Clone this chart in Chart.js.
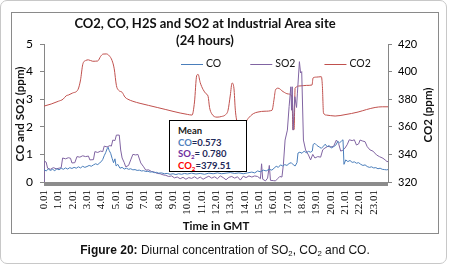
<!DOCTYPE html>
<html>
<head>
<meta charset="utf-8">
<script src="https://cdn.jsdelivr.net/npm/chart.js@4.4.1/dist/chart.umd.min.js"></script>
<style>
  html, body { margin: 0; padding: 0; background: #fff; }
  #wrap { position: relative; width: 450px; height: 266px; overflow: hidden; }
  #frame { position: absolute; left: 0; top: 0; width: 445px; height: 262px; border: 1.5px solid #c8c8c8; border-radius: 7px; pointer-events: none; }
  #meanBox { position: absolute; left: 169px; top: 120px; width: 78px; height: 52px; box-sizing: border-box;
    border: 1.5px solid #000; background: #fff; padding: 4px 0 0 8px; font: bold 9.5px Lato, sans-serif; line-height: 11.5px; color: #1f2a5a; }
  #meanBox sub, #caption sub { font-size: 65%; vertical-align: -2px; line-height: 0; }
  #caption { position: absolute; left: 0; top: 243px; width: 450px; text-align: center; font: 12px "Liberation Sans", Arial, sans-serif; color: #111; }
</style>
</head>
<body>
<div id="wrap">
  <canvas id="c" width="450" height="266"></canvas>
  <div id="meanBox"></div>
  <div id="caption"><b>Figure 20:</b> Diurnal concentration of SO<sub>2</sub>, CO<sub>2</sub> and CO.</div>
  <div id="frame"></div>
</div>
<script>
// tick labels along the time axis (hour.minute)
const hourLabels = ['0.01','1.01','2.01','3.01','4.01','5.01','6.01','7.01','8.01','9.01','10.01','11.01',
  '12.01','13.01','14.01','15.01','16.01','17.01','18.01','19.01','20.01','21.01','22.01','23.01'];

// CO (ppm), left axis
const coHours = [0,0.15,0.3,0.45,0.6,0.75,0.9,1.05,1.2,1.35,1.5,1.65,1.8,1.95,2.1,2.25,2.4,2.55,2.7,2.85,
  3,3.15,3.3,3.45,3.6,3.75,3.9,4,4.1,4.2,4.3,4.4,4.47,4.55,4.65,4.75,4.85,4.95,5.03,5.15,5.3,5.45,5.6,5.75,5.9,
  6.05,6.2,6.35,6.5,6.65,6.8,6.95,7.1,7.25,7.4,7.55,7.7,7.85,8,8.2,8.4,8.6,8.8,9,9.2,9.4,9.6,9.8,10,10.3,10.6,
  10.9,11.2,11.5,11.8,12.1,12.4,12.7,13,13.3,13.6,13.9,14.2,14.5,14.7,14.9,15.1,15.3,15.5,15.7,15.9,16.05,16.2,
  16.35,16.5,16.65,16.8,16.95,17.1,17.25,17.4,17.52,17.65,17.72,17.85,18,18.15,18.3,18.45,18.6,18.72,18.78,18.9,
  19.05,19.2,19.35,19.5,19.62,19.75,19.9,20.05,20.2,20.35,20.5,20.62,20.75,20.86,20.93,21.05,21.2,21.35,21.5,
  21.65,21.8,21.95,22.1,22.25,22.4,22.55,22.7,22.85,23,23.15,23.3,23.45,23.6,23.75,23.9,24];
const coValues = [0.45,0.40,0.47,0.42,0.46,0.41,0.48,0.44,0.50,0.46,0.51,0.47,0.52,0.49,0.53,0.50,0.55,0.51,0.57,0.53,
  0.56,0.60,0.57,0.62,0.66,0.63,0.70,0.74,0.82,0.95,1.06,1.20,1.26,1.14,1.04,0.86,0.70,0.84,0.58,0.64,0.50,0.53,0.47,0.50,0.46,
  0.48,0.44,0.45,0.42,0.43,0.40,0.41,0.38,0.39,0.36,0.37,0.34,0.35,0.32,0.33,0.30,0.31,0.28,0.30,0.27,0.30,0.28,0.31,0.29,0.32,0.29,
  0.31,0.28,0.32,0.30,0.33,0.30,0.32,0.34,0.31,0.33,0.30,0.33,0.36,0.33,0.40,0.37,0.43,0.40,0.46,0.43,0.50,0.57,
  0.53,0.62,0.58,0.63,0.60,0.67,0.70,0.62,0.58,0.70,1.05,1.08,1.04,1.12,1.06,1.11,1.08,1.12,1.36,1.40,
  1.32,1.27,1.22,1.30,1.37,1.28,1.32,1.23,1.28,1.33,1.47,1.42,1.48,1.53,0.64,0.80,0.74,0.78,0.71,
  0.73,0.68,0.70,0.64,0.60,0.62,0.56,0.53,0.55,0.51,0.52,0.48,0.50,0.46,0.45,0.44,0.45];

// SO2 (ppm), left axis
const so2Hours = [0,0.02,0.15,0.25,0.45,0.65,0.85,1.05,1.2,1.3,1.5,1.7,1.85,1.95,2.15,2.3,2.5,2.7,2.9,3.1,3.2,3.45,
  3.55,3.75,3.95,4.1,4.2,4.4,4.6,4.7,4.8,4.95,5.05,5.25,5.35,5.45,5.6,5.7,5.9,6.05,6.2,6.4,6.55,6.75,6.95,7.1,7.3,
  7.5,7.7,7.9,8.1,8.3,8.5,8.7,8.9,9.1,9.3,9.5,9.7,9.9,10.1,10.3,10.5,10.7,10.9,11.1,11.3,11.5,11.7,11.9,12.1,12.3,
  12.5,12.7,12.9,13.1,13.3,13.5,13.7,13.9,14.1,14.3,14.5,14.7,14.9,15.1,15.18,15.26,15.45,15.6,15.72,15.8,16,16.15,
  16.3,16.45,16.6,16.7,16.82,16.98,17.1,17.22,17.27,17.32,17.38,17.5,17.62,17.68,17.82,17.9,17.98,18.1,18.25,18.45,
  18.6,18.75,18.9,19.1,19.3,19.45,19.6,19.8,20,20.2,20.4,20.55,20.7,20.85,21,21.15,21.3,21.5,21.65,21.8,21.95,22.05,
  22.2,22.4,22.55,22.75,22.95,23.2,23.4,23.65,23.8,23.93,24];
const so2Values = [0,0.76,0.72,0.50,0.46,0.52,0.48,0.50,0.52,0.87,0.84,0.88,0.86,0.69,0.70,0.92,0.90,0.95,0.92,0.94,0.80,0.81,
  1.10,1.07,1.12,1.10,1.30,1.27,1.32,1.30,1.52,1.50,1.70,1.70,1.16,0.87,0.70,0.55,0.60,0.80,1.00,0.98,1.00,0.69,0.55,0.43,0.44,
  0.38,0.36,0.31,0.30,0.26,0.24,0.20,0.22,0.15,0.18,0.12,0.17,0.10,0.16,0.13,0.19,0.12,0.18,0.10,0.16,0.21,0.14,0.19,0.12,0.22,
  0.16,0.08,0.17,0.20,0.14,0.19,0.07,0.21,0.16,0.22,0.18,0.22,0.20,0.12,0.66,0.10,0.04,0.14,0.60,0.06,0.05,0.04,
  0.12,0.20,0.18,0.62,1.52,1.88,2.73,3.45,2.60,3.45,1.88,3.09,2.70,3.22,4.36,3.95,4.00,1.52,1.16,0.98,
  0.80,1.00,0.87,0.92,0.90,1.17,1.23,1.29,1.27,1.29,1.52,1.40,1.12,1.15,1.23,1.35,1.53,1.50,1.53,1.34,1.38,1.52,
  1.49,1.46,1.28,1.16,1.12,0.98,0.92,0.86,0.80,0.74,0.74];

// CO2 (ppm), right axis
const co2Hours = [0,0.5,1,1.33,1.55,1.7,2,2.37,2.55,2.7,2.9,3.1,3.4,3.75,3.95,4.12,4.35,4.55,4.75,4.9,5.05,5.2,5.45,
  5.65,5.85,6.2,6.7,7.3,7.9,8.5,9,9.5,10,10.33,10.5,10.65,10.75,10.9,11.1,11.3,11.45,11.55,11.7,12.07,12.4,12.63,
  12.84,13,13.12,13.25,13.35,13.5,13.9,14.24,14.6,14.93,15.42,15.91,16.05,16.15,16.33,16.68,17.03,17.31,17.36,
  17.45,17.52,17.86,18.3,18.7,18.77,19,19.35,19.42,19.5,19.7,20.31,21,21.91,22.5,23.1,23.6,24];
const co2Values = [375,376.5,378.5,380,382.5,383,384.5,387,394,405,408,408.5,407.5,407.7,411,412.7,412.8,411.5,408,402,390,
  386.5,385,381.5,380,378.5,377,375.5,374,372.5,371.2,370,369,368.5,378,397,398,392,387,384,382,374,369.5,367,367.5,
  368.5,372,383,391.7,388,372,363,361,366,369.5,370.7,371.3,372,380,386.7,388,385.5,383.8,381.6,358,358,388,389.6,
  390,390.3,395.4,396,396.3,390,370,368.5,367.8,368.8,370.7,372.5,374,374.5,374.5];

const meanCO = 0.573, meanSO2 = 0.780, meanCO2 = 379.51;

const seriesNames = ['CO', 'SO2', 'CO2'];
const seriesColors = ['#4a7ebb', '#8064a2', '#c0504d'];

const pts = (xs, ys) => xs.map((h, i) => ({ x: h, y: ys[i] }));

document.getElementById('meanBox').innerHTML =
  '<div style="color:#1a1a1a">Mean</div>' +
  '<div><span style="color:#4f81bd">CO</span>=' + meanCO.toFixed(3) + '</div>' +
  '<div><span style="color:#7030a0">SO<sub>2</sub></span>= ' + meanSO2.toFixed(3) + '</div>' +
  '<div><span style="color:#ff0000">CO<sub>2</sub></span>=' + meanCO2.toFixed(2) + '</div>';

// frame, floor bar, titles and the in-plot legend
const decor = {
  id: 'decor',
  beforeDraw(chart) {
    const ctx = chart.ctx;
    ctx.save();
    ctx.strokeStyle = '#8a8a8a';
    ctx.lineWidth = 1;
    ctx.strokeRect(11.5, 12.5, 427, 221);
    ctx.restore();
  },
  beforeDatasetsDraw(chart) {
    const { ctx, chartArea: a } = chart;
    ctx.save();
    ctx.fillStyle = '#8c8c8c';
    ctx.fillRect(a.left, a.bottom, a.right - a.left, 4);
    ctx.restore();
  },
  afterDraw(chart) {
    const { ctx, chartArea: a } = chart;
    ctx.save();
    ctx.fillStyle = '#111';
    ctx.textAlign = 'center';
    ctx.textBaseline = 'middle';
    ctx.font = 'bold 13px Lato, sans-serif';
    ctx.fillText('CO2, CO, H2S and SO2 at Industrial Area site', 205, 24);
    ctx.fillText('(24 hours)', 205, 41);

    ctx.font = 'bold 11.5px Lato, sans-serif';
    ctx.fillText('Time in GMT', (a.left + a.right) / 2, 226);
    ctx.save();
    ctx.translate(20, 114);
    ctx.rotate(-Math.PI / 2);
    ctx.fillText('CO and SO2 (ppm)', 0, 0);
    ctx.restore();
    ctx.save();
    ctx.translate(428, 115);
    ctx.rotate(-Math.PI / 2);
    ctx.fillText('CO2 (ppm)', 0, 0);
    ctx.restore();

    // legend inside the plot, along the top
    ctx.font = '10.5px Lato, sans-serif';
    ctx.textAlign = 'left';
    let x = 181;
    const y = 64;
    chart.data.datasets.forEach(ds => {
      ctx.strokeStyle = ds.borderColor;
      ctx.lineWidth = 1;
      ctx.beginPath();
      ctx.moveTo(x, y + 0.5);
      ctx.lineTo(x + 22, y + 0.5);
      ctx.stroke();
      ctx.fillStyle = '#111';
      ctx.fillText(ds.label, x + 25, y);
      x += 25 + ctx.measureText(ds.label).width + 29;
    });
    ctx.restore();
  }
};

new Chart(document.getElementById('c'), {
  type: 'line',
  data: {
    datasets: [
      { label: seriesNames[0], data: pts(coHours, coValues), borderColor: seriesColors[0], yAxisID: 'y' },
      { label: seriesNames[1], data: pts(so2Hours, so2Values), borderColor: seriesColors[1], yAxisID: 'y' },
      { label: seriesNames[2], data: pts(co2Hours, co2Values), borderColor: seriesColors[2], yAxisID: 'y2',
        cubicInterpolationMode: 'monotone' }
    ]
  },
  options: {
    responsive: false,
    animation: false,
    layout: { padding: { top: 44, left: 0, right: 0, bottom: 0 } },
    elements: { point: { radius: 0 }, line: { borderWidth: 1, tension: 0 } },
    plugins: { legend: { display: false }, tooltip: { enabled: false }, title: { display: false } },
    scales: {
      x: {
        type: 'linear', min: 0, max: 24,
        afterBuildTicks: s => { s.ticks = hourLabels.map(l => ({ value: parseFloat(l) })); },
        afterFit: s => { s.height = 84; },
        ticks: {
          autoSkip: false, minRotation: 90, maxRotation: 90, padding: 8, color: '#000',
          font: { family: '"Liberation Serif", serif', size: 11 },
          callback: (v, i) => hourLabels[i]
        },
        grid: { display: false, drawTicks: false },
        border: { display: false }
      },
      y: {
        position: 'left', min: 0, max: 5,
        afterFit: s => { s.width = 44; },
        ticks: { stepSize: 1, padding: 7, color: '#000', font: { family: 'Lato, sans-serif', size: 12 } },
        grid: { drawOnChartArea: false, tickLength: 4, color: '#868686' },
        border: { color: '#868686' }
      },
      y2: {
        position: 'right', min: 320, max: 420,
        afterFit: s => { s.width = 62; },
        ticks: { stepSize: 20, padding: 6, color: '#000', font: { family: 'Lato, sans-serif', size: 11 } },
        grid: { drawOnChartArea: false, tickLength: 4, color: '#868686' },
        border: { color: '#868686' }
      }
    }
  },
  plugins: [decor]
});
</script>
</body>
</html>
